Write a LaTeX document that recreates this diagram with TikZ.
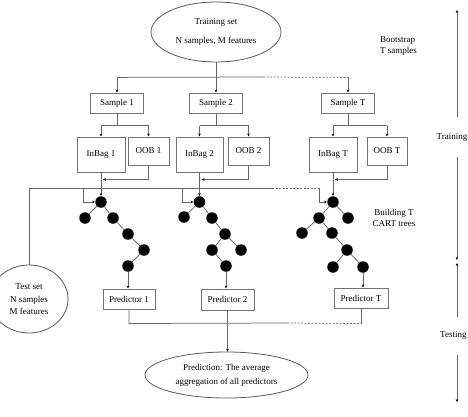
\documentclass[tikz,border=0pt]{standalone}
\usepackage{fontspec}
\setmainfont{Liberation Serif}
\usetikzlibrary{shapes.geometric,arrows.meta,calc}
\begin{document}
\begin{tikzpicture}[x=1pt,y=-1pt,
  font=\fontsize{9}{10.8}\selectfont,
  ln/.style={draw=black!60,line width=0.75pt},
  arr/.style={ln,-{Stealth[black,length=3pt,width=2.6pt]}},
  dsh/.style={ln,dash pattern=on 2pt off 1.5pt},
  box/.style={draw=black!55,line width=1pt,rectangle,inner sep=0pt,fill=white},
  ell/.style={draw=black!65,line width=0.8pt,ellipse,inner sep=0pt,align=center},
  nd/.style={circle,fill=black,inner sep=0pt,minimum size=11.5pt},
  lbl/.style={inner sep=0pt,align=center}]
\useasboundingbox (0,0) rectangle (468,416);

% training set
\node[ell,minimum width=130pt,minimum height=60pt] (train) at (216,32) {Training set\\[9pt]N samples, M features};
\node[lbl,align=left,anchor=west] (boot) at (380,46) {Bootstrap\\[1pt]T samples};

% samples
\node[box,minimum width=53pt,minimum height=20pt] (s1) at (117,103) {Sample 1};
\node[box,minimum width=53pt,minimum height=20pt] (s2) at (216,103) {Sample 2};
\node[box,minimum width=53pt,minimum height=20pt] (sT) at (348,103) {Sample T};

\draw[ln] (train.south) -- ++(0,15) coordinate (bj);
\coordinate (bd) at (263,77);
\draw[ln] (bj -| s1) -- (bd);
\draw[dsh] (bd) -- (bj -| sT);
\draw[arr] (bj -| s1) -- (s1.north);
\draw[arr] (bj) -- (s2.north);
\draw[arr] (bj -| sT) -- (sT.north);

% inbag / oob
\node[box,minimum width=48pt,minimum height=35pt] (ib1) at (101,154.5) {InBag 1};
\node[box,minimum width=41pt,minimum height=28pt] (oob1) at (148.5,151) {OOB 1};
\node[box,minimum width=47pt,minimum height=35pt] (ib2) at (199.5,154.5) {InBag 2};
\node[box,minimum width=41pt,minimum height=28pt] (oob2) at (248.5,151) {OOB 2};
\node[box,minimum width=48pt,minimum height=35pt] (ibT) at (333,154.5) {InBag T};
\node[box,minimum width=40pt,minimum height=28pt] (oobT) at (387,151) {OOB T};

\foreach \s/\i/\o in {s1/ib1/oob1,s2/ib2/oob2,sT/ibT/oobT}{
  \draw[ln] (\s.south) -- ++(0,12) coordinate (j);
  \draw[ln] (j -| \i) -- (j -| \o);
  \draw[arr] (j -| \i) -- (\i.north);
  \draw[arr] (j -| \o) -- (\o.north);
  \draw[ln] (\o.south) -- ++(0,14) coordinate (k);
  \draw[arr] (k) -- ($(k -| \i)+(2,0)$);
}

% trees
\node[nd] (r1) at (101,202) {};
\node[nd] (a1) at (85,218) {};
\node[nd] (b1) at (113,218) {};
\node[nd] (c1) at (128,234) {};
\node[nd] (d1) at (144,250) {};
\node[nd] (e1) at (128,266) {};
\draw[ln] (r1) -- (a1) (r1) -- (b1) (b1) -- (c1) (c1) -- (d1) (d1) -- (e1);

\node[nd] (r2) at (199.5,202) {};
\node[nd] (a2) at (184,217) {};
\node[nd] (b2) at (212,218) {};
\node[nd] (c2) at (225,234) {};
\node[nd] (d2) at (212,250) {};
\node[nd] (f2) at (241,250) {};
\node[nd] (e2) at (226,266) {};
\draw[ln] (r2) -- (a2) (r2) -- (b2) (b2) -- (c2) (c2) -- (d2) (c2) -- (f2) (d2) -- (e2);

\node[nd] (rT) at (333,202) {};
\node[nd] (aT) at (319,218) {};
\node[nd] (bT) at (348,218) {};
\node[nd] (cT) at (302,233) {};
\node[nd] (dT) at (332,233) {};
\node[nd] (eT) at (347,250) {};
\node[nd] (fT) at (333,267) {};
\node[nd] (gT) at (363,267) {};
\draw[ln] (rT) -- (aT) (rT) -- (bT) (aT) -- (cT) (aT) -- (dT) (dT) -- (eT) (eT) -- (fT) (eT) -- (gT);

\draw[arr] (ib1.south) -- (r1.north);
\draw[arr] (ib2.south) -- (r2.north);
\draw[arr] (ibT.south) -- (rT.north);

\node[lbl] (build) at (394,218) {Building T\\CART trees};

% test set
\node[ell,minimum width=78pt,minimum height=68pt] (test) at (29,299) {Test set\\[2pt]N samples\\[1pt]M features};
\coordinate (th) at (test.north |- 0,188);
\coordinate (tdash) at (272,188);
\coordinate (tend) at (319,188);
\coordinate (tb1) at (83,188);
\coordinate (tb2) at (182,188);
\draw[ln] (test.north) -- (th) -- (tdash);
\draw[dsh] (tdash) -- (tend);
\draw[arr] (tend) |- (rT.west);
\draw[arr] (tb1) |- (r1.west);
\draw[arr] (tb2) |- (r2.west);

% predictors
\node[box,minimum width=52pt,minimum height=20pt] (p1) at (129,299) {Predictor 1};
\node[box,minimum width=53pt,minimum height=21pt] (p2) at (227.5,299.5) {Predictor 2};
\node[box,minimum width=54pt,minimum height=20pt] (pT) at (361,298) {Predictor T};
\draw[arr] (e1) -- (e1 |- p1.north);
\draw[arr] (e2) -- (e2 |- p2.north);
\draw[arr] (gT) -- (gT |- pT.north);

\node[ell,minimum width=163pt,minimum height=46pt] (pred) at (226.5,375) {Prediction: The average\\[3pt]aggregation of all predictors};

\path (p1.south) ++(0,14) coordinate (m1);
\coordinate (md) at (287,323);
\coordinate (mT) at (m1 -| pT);
\draw[ln] (p1.south) -- (m1) -- (md);
\draw[dsh] (md) -- (mT);
\draw[ln] (mT) -- (pT.south);
\draw[arr] (p2.south) -- (p2.south |- pred.north);

% phase arrows
\node[lbl,anchor=west] (trn) at (436.5,137) {Training};
\node[lbl,anchor=west] (tst) at (440,335) {Testing};
\coordinate (v1) at (457,117);
\coordinate (v2) at (457,10);
\coordinate (v3) at (457,157);
\coordinate (v4) at (457,260);
\coordinate (v5) at (457,317);
\coordinate (v6) at (457,263);
\coordinate (v7) at (457,355);
\coordinate (v8) at (457,402);
\draw[arr] (v1) -- (v2);
\draw[arr] (v3) -- (v4);
\draw[arr] (v5) -- (v6);
\draw[arr] (v7) -- (v8);
\end{tikzpicture}
\end{document}
